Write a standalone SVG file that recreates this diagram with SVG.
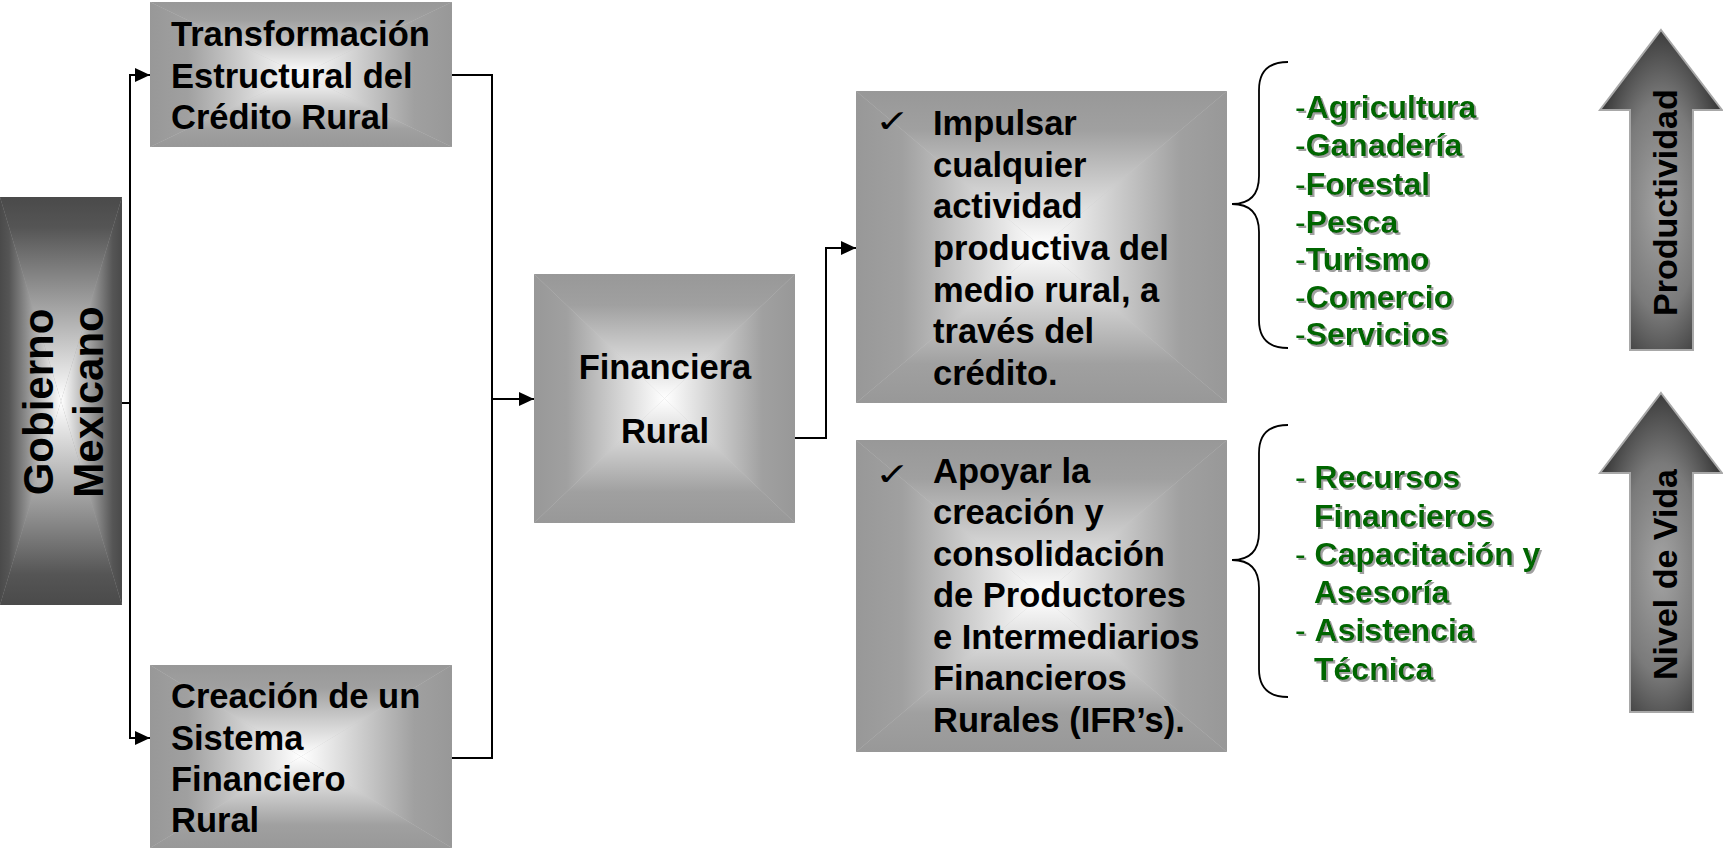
<svg xmlns="http://www.w3.org/2000/svg" width="1723" height="850" viewBox="0 0 1723 850">
<style>
.t{font-family:"Liberation Sans",Arial,sans-serif;font-weight:bold;fill:#000}
.box{font-size:34.5px}
.g{font-family:"Liberation Sans",Arial,sans-serif;font-weight:bold;font-size:32px;fill:#006600;filter:url(#sh)}
.d{font-weight:normal}
.ck{font-family:"DejaVu Sans",sans-serif;font-size:42px;fill:#000}
.ln{fill:none;stroke:#000;stroke-width:2}
.br{fill:none;stroke:#000;stroke-width:1.8}
.ar{stroke:#a8a8a8;stroke-width:2;fill:url(#arG)}
</style>
<defs>
<linearGradient id="gT" x1="0" y1="0" x2="0" y2="1"><stop offset="0" stop-color="#989898"/><stop offset="0.25" stop-color="#a0a0a0"/><stop offset="1" stop-color="#fff"/></linearGradient>
<linearGradient id="gB" x1="0" y1="1" x2="0" y2="0"><stop offset="0" stop-color="#989898"/><stop offset="0.25" stop-color="#a0a0a0"/><stop offset="1" stop-color="#fff"/></linearGradient>
<linearGradient id="gL" x1="0" y1="0" x2="1" y2="0"><stop offset="0" stop-color="#989898"/><stop offset="0.25" stop-color="#a0a0a0"/><stop offset="1" stop-color="#fff"/></linearGradient>
<linearGradient id="gR" x1="1" y1="0" x2="0" y2="0"><stop offset="0" stop-color="#989898"/><stop offset="0.25" stop-color="#a0a0a0"/><stop offset="1" stop-color="#fff"/></linearGradient>
<linearGradient id="dT" x1="0" y1="0" x2="0" y2="1"><stop offset="0" stop-color="#4a4a4a"/><stop offset="0.15" stop-color="#555"/><stop offset="1" stop-color="#fff"/></linearGradient>
<linearGradient id="dB" x1="0" y1="1" x2="0" y2="0"><stop offset="0" stop-color="#4a4a4a"/><stop offset="0.15" stop-color="#555"/><stop offset="1" stop-color="#fff"/></linearGradient>
<linearGradient id="dL" x1="0" y1="0" x2="1" y2="0"><stop offset="0" stop-color="#4a4a4a"/><stop offset="0.15" stop-color="#555"/><stop offset="1" stop-color="#fff"/></linearGradient>
<linearGradient id="dR" x1="1" y1="0" x2="0" y2="0"><stop offset="0" stop-color="#4a4a4a"/><stop offset="0.15" stop-color="#555"/><stop offset="1" stop-color="#fff"/></linearGradient>
<radialGradient id="arG" cx="0.5" cy="0.55" r="0.55"><stop offset="0" stop-color="#a4a4a4"/><stop offset="0.6" stop-color="#7a7a7a"/><stop offset="1" stop-color="#3c3c3c"/></radialGradient>
<filter id="sh" x="-5%" y="-20%" width="115%" height="150%"><feDropShadow dx="2" dy="2" stdDeviation="0.6" flood-color="#a0a0a0" flood-opacity="1"/></filter>
<marker id="ah" markerUnits="userSpaceOnUse" markerWidth="16" markerHeight="14" refX="15" refY="7" orient="auto"><path d="M0,0 L15,7 L0,14 Z" fill="#000"/></marker>
</defs>

<g id="connectors">
<path class="ln" d="M110,403 H130"/>
<path class="ln" d="M130,403 V75 H150" marker-end="url(#ah)"/>
<path class="ln" d="M130,403 V738 H150" marker-end="url(#ah)"/>
<path class="ln" d="M452,75 H492 V758 H452"/>
<path class="ln" d="M492,399 H534" marker-end="url(#ah)"/>
<path class="ln" d="M795,438 H826 V248 H856" marker-end="url(#ah)"/>
</g>

<g id="gobierno">
<rect x="0" y="197" width="122" height="408" fill="#a0a0a0"/>
<polygon points="0,197 122,197 61,401" fill="url(#dT)"/>
<polygon points="0,605 122,605 61,401" fill="url(#dB)"/>
<polygon points="0,197 0,605 61,401" fill="url(#dL)"/>
<polygon points="122,197 122,605 61,401" fill="url(#dR)"/>
<text class="t" font-size="42" text-anchor="middle" transform="translate(53,402) rotate(-90)">Gobierno</text>
<text class="t" font-size="42" text-anchor="middle" transform="translate(103,402) rotate(-90)">Mexicano</text>
</g>

<g id="transformacion">
<rect x="150" y="2" width="302" height="145" fill="#c8c8c8"/>
<polygon points="150,2 452,2 301,74.5" fill="url(#gT)"/>
<polygon points="150,147 452,147 301,74.5" fill="url(#gB)"/>
<polygon points="150,2 150,147 301,74.5" fill="url(#gL)"/>
<polygon points="452,2 452,147 301,74.5" fill="url(#gR)"/>
<text class="t box" x="171" y="46">Transformación</text>
<text class="t box" x="171" y="88">Estructural del</text>
<text class="t box" x="171" y="129">Crédito Rural</text>
</g>

<g id="creacion">
<rect x="150" y="665" width="302" height="183" fill="#c8c8c8"/>
<polygon points="150,665 452,665 301,756.5" fill="url(#gT)"/>
<polygon points="150,848 452,848 301,756.5" fill="url(#gB)"/>
<polygon points="150,665 150,848 301,756.5" fill="url(#gL)"/>
<polygon points="452,665 452,848 301,756.5" fill="url(#gR)"/>
<text class="t box" x="171" y="708">Creación de un</text>
<text class="t box" x="171" y="750">Sistema</text>
<text class="t box" x="171" y="791">Financiero</text>
<text class="t box" x="171" y="832">Rural</text>
</g>

<g id="financiera">
<rect x="534" y="274" width="261" height="249" fill="#c8c8c8"/>
<polygon points="534,274 795,274 664.5,398.5" fill="url(#gT)"/>
<polygon points="534,523 795,523 664.5,398.5" fill="url(#gB)"/>
<polygon points="534,274 534,523 664.5,398.5" fill="url(#gL)"/>
<polygon points="795,274 795,523 664.5,398.5" fill="url(#gR)"/>
<text class="t box" x="665" y="379" text-anchor="middle">Financiera</text>
<text class="t box" x="665" y="443" text-anchor="middle">Rural</text>
</g>

<g id="impulsar">
<rect x="856" y="91" width="371" height="312" fill="#c8c8c8"/>
<polygon points="856,91 1227,91 1041.5,247" fill="url(#gT)"/>
<polygon points="856,403 1227,403 1041.5,247" fill="url(#gB)"/>
<polygon points="856,91 856,403 1041.5,247" fill="url(#gL)"/>
<polygon points="1227,91 1227,403 1041.5,247" fill="url(#gR)"/>
<text class="ck" transform="translate(875,132) scale(1,0.75)">✓</text>
<text class="t box" x="933" y="135">Impulsar</text>
<text class="t box" x="933" y="177">cualquier</text>
<text class="t box" x="933" y="218">actividad</text>
<text class="t box" x="933" y="260">productiva del</text>
<text class="t box" x="933" y="302">medio rural, a</text>
<text class="t box" x="933" y="343">través del</text>
<text class="t box" x="933" y="385">crédito.</text>
</g>

<g id="apoyar">
<rect x="856" y="440" width="371" height="312" fill="#c8c8c8"/>
<polygon points="856,440 1227,440 1041.5,596" fill="url(#gT)"/>
<polygon points="856,752 1227,752 1041.5,596" fill="url(#gB)"/>
<polygon points="856,440 856,752 1041.5,596" fill="url(#gL)"/>
<polygon points="1227,440 1227,752 1041.5,596" fill="url(#gR)"/>
<text class="ck" transform="translate(875,485) scale(1,0.75)">✓</text>
<text class="t box" x="933" y="483">Apoyar la</text>
<text class="t box" x="933" y="524">creación y</text>
<text class="t box" x="933" y="566">consolidación</text>
<text class="t box" x="933" y="607">de Productores</text>
<text class="t box" x="933" y="649">e Intermediarios</text>
<text class="t box" x="933" y="690">Financieros</text>
<text class="t box" x="933" y="732">Rurales (IFR’s).</text>
</g>

<g id="actividades">
<path class="br" d="M1288,62 Q1259,62 1259,90 L1259,176 Q1259,204 1232,204 Q1259,204 1259,232 L1259,320 Q1259,348 1288,348"/>
<text class="g" x="1295" y="118"><tspan class="d">-</tspan>Agricultura</text>
<text class="g" x="1295" y="156"><tspan class="d">-</tspan>Ganadería</text>
<text class="g" x="1295" y="195"><tspan class="d">-</tspan>Forestal</text>
<text class="g" x="1295" y="233"><tspan class="d">-</tspan>Pesca</text>
<text class="g" x="1295" y="270"><tspan class="d">-</tspan>Turismo</text>
<text class="g" x="1295" y="308"><tspan class="d">-</tspan>Comercio</text>
<text class="g" x="1295" y="345"><tspan class="d">-</tspan>Servicios</text>
</g>

<g id="apoyos">
<path class="br" d="M1288,425 Q1259,425 1259,453 L1259,532 Q1259,560 1232,560 Q1259,560 1259,588 L1259,669 Q1259,697 1288,697"/>
<text class="g" x="1295" y="488"><tspan class="d">- </tspan>Recursos</text>
<text class="g" x="1314" y="527">Financieros</text>
<text class="g" x="1295" y="565"><tspan class="d">- </tspan>Capacitación y</text>
<text class="g" x="1314" y="603">Asesoría</text>
<text class="g" x="1295" y="641"><tspan class="d">- </tspan>Asistencia</text>
<text class="g" x="1314" y="680">Técnica</text>
</g>

<g id="productividad">
<polygon class="ar" points="1661,30 1722,110 1693,110 1693,350 1630,350 1630,110 1600,110"/>
<text class="t" font-size="34" transform="translate(1677,316) rotate(-90)">Productividad</text>
</g>

<g id="nivel-de-vida">
<polygon class="ar" points="1661,393 1722,473 1693,473 1693,712 1630,712 1630,473 1600,473"/>
<text class="t" font-size="34" transform="translate(1677,680) rotate(-90)">Nivel de Vida</text>
</g>
</svg>
